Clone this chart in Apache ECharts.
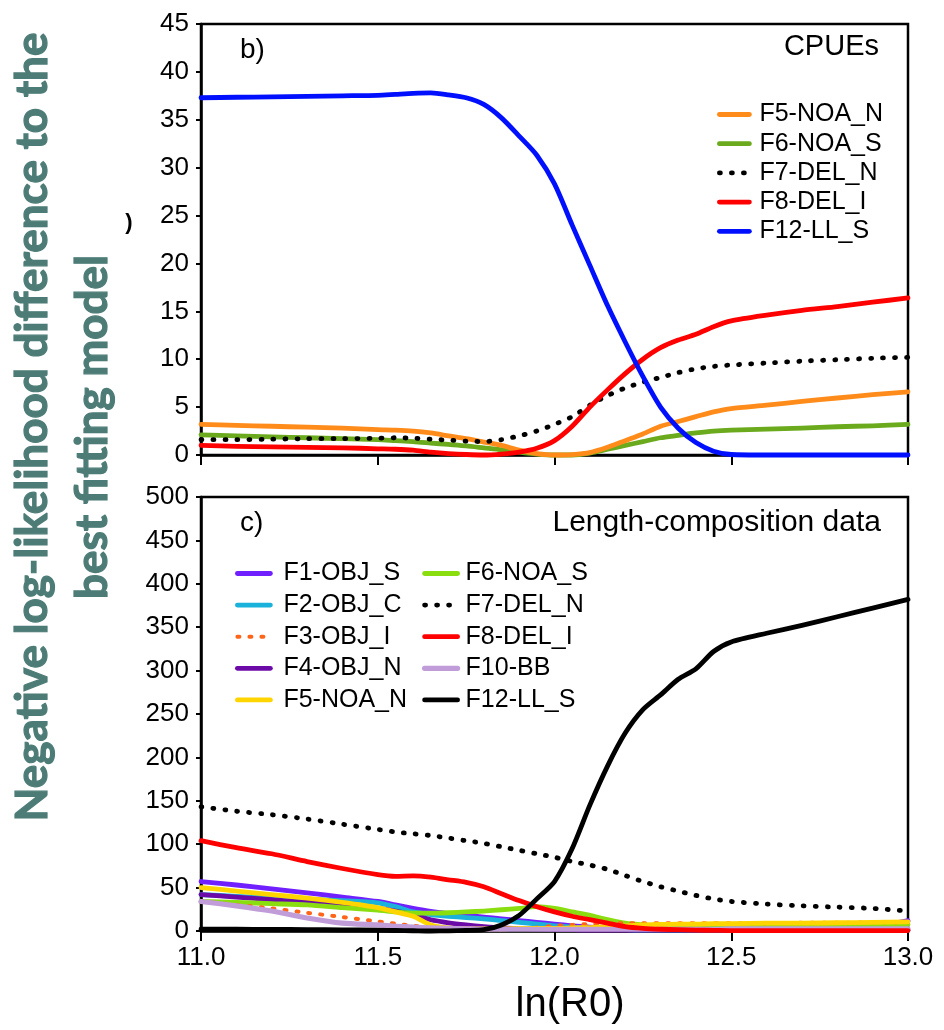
<!DOCTYPE html>
<html>
<head>
<meta charset="utf-8">
<script src="https://cdn.jsdelivr.net/npm/echarts@6/dist/echarts.min.js"></script>
<style>
  html, body { margin: 0; padding: 0; background: #fff; }
  #chart { width: 944px; height: 1030px; }
</style>
</head>
<body>
<div id="chart"></div>
<script>
// ln(R0) profile grid shared by both panels
const lnR0 = [11.0, 11.1, 11.2, 11.3, 11.4, 11.5, 11.55, 11.6, 11.65, 11.7, 11.75, 11.8, 11.85, 11.9, 11.95,
              12.0, 12.05, 12.1, 12.15, 12.2, 12.25, 12.3, 12.35, 12.4, 12.45, 12.5, 12.6, 12.7, 12.8, 12.9, 13.0];

// Panel b) CPUE likelihood components
const cpueF5 = [3.2, 3.1, 3.0, 2.9, 2.8, 2.65, 2.6, 2.5, 2.3, 2.0, 1.7, 1.35, 1.0, 0.5, 0.15, 0.0, 0.05, 0.25, 0.8, 1.5, 2.2, 3.0, 3.5, 4.0, 4.5, 4.85, 5.2, 5.6, 5.95, 6.3, 6.6];
const cpueF6 = [2.1, 2.0, 1.9, 1.8, 1.7, 1.6, 1.5, 1.4, 1.25, 1.1, 0.95, 0.75, 0.55, 0.3, 0.1, 0.0, 0.0, 0.2, 0.6, 1.0, 1.4, 1.8, 2.05, 2.3, 2.5, 2.6, 2.7, 2.8, 2.95, 3.05, 3.2];
const cpueF7 = [1.6, 1.6, 1.65, 1.7, 1.7, 1.75, 1.8, 1.75, 1.65, 1.55, 1.45, 1.4, 1.6, 2.0, 2.5, 3.2, 4.0, 5.2, 6.2, 7.0, 7.6, 8.1, 8.6, 9.0, 9.25, 9.4, 9.6, 9.8, 9.95, 10.1, 10.2];
const cpueF8 = [1.0, 0.9, 0.85, 0.8, 0.75, 0.65, 0.6, 0.5, 0.3, 0.15, 0.05, 0.0, 0.1, 0.3, 0.7, 1.5, 3.0, 5.0, 6.8, 8.5, 10.0, 11.2, 12.0, 12.6, 13.4, 14.0, 14.6, 15.1, 15.5, 15.95, 16.4];
const cpueF12 = [37.3, 37.35, 37.4, 37.45, 37.5, 37.55, 37.65, 37.75, 37.8, 37.6, 37.3, 36.6, 35.2, 33.3, 31.3, 28.3, 24.0, 19.8, 15.6, 11.8, 8.2, 5.0, 2.8, 1.3, 0.4, 0.05, 0, 0, 0, 0, 0];

// Panel c) length-composition likelihood components
const lenF1 = [57, 53, 48.5, 44, 39, 34, 30, 26, 22.5, 20, 18, 16, 14, 12, 10, 8, 6, 4.5, 3.5, 2.5, 2, 1.5, 1.5, 1.5, 1.5, 2, 2.5, 3, 3.5, 5, 12];
const lenF2 = [42, 40, 38, 36.5, 35, 32.5, 28, 22, 19, 17, 15.5, 14, 12, 10, 8, 6, 4.5, 3, 2, 1.5, 1, 1, 1, 1, 1, 1, 1, 1, 1, 1, 1];
const lenF3 = [34, 30, 26, 21, 16, 11, 8.5, 6, 4.5, 3, 2.5, 2, 2, 2.5, 4, 6, 7, 8, 8.5, 9, 9, 9, 9, 9, 9, 9, 9, 9.5, 9.5, 10, 10];
const lenF4 = [42, 39, 36, 33, 30, 26, 23, 19, 13, 9.5, 7, 5, 3.5, 3, 2.5, 2, 1.5, 1, 1, 1, 1, 1, 1, 1, 1, 1, 1, 1, 1, 1, 1];
const lenF5 = [50, 46, 42, 38, 33, 27, 22, 17, 7, 3.5, 2.5, 2.5, 2.5, 3, 3, 3, 3.5, 4, 5, 6, 7, 7.5, 8, 8, 8.5, 8.5, 9, 9, 9.5, 10, 10.5];
const lenF6 = [34, 33, 31.5, 30, 27, 24, 22, 20.5, 20.5, 21, 22, 23, 24.5, 26, 28, 26, 22, 18, 13, 9, 7, 6, 6, 6, 6, 6.5, 6.5, 7, 7, 7.5, 7.5];
const lenF7 = [143, 138, 134, 129, 123, 117, 114, 112, 110, 107, 104, 101, 97, 93, 89, 85, 80, 76, 71, 64, 57, 51, 46, 41, 37, 34, 31, 29, 27.5, 26, 23];
const lenF8 = [104, 96, 89, 80, 72, 65, 63, 63.5, 62, 59, 56, 51, 43, 35, 28, 22, 17, 13, 9, 5, 3, 2, 1.5, 1, 0.8, 0.5, 0.5, 0.5, 0.5, 0.5, 0.5];
const lenF10 = [34, 29, 23, 15, 9, 7, 5.5, 4.5, 3.5, 3, 2.5, 2, 2, 2, 2, 2, 2, 2, 2, 2, 2, 2, 2, 2, 2, 2.5, 2.5, 2.5, 2.5, 2.5, 2.5];
const lenF12 = [2, 2, 1.8, 1.6, 1.4, 1, 0.6, 0.3, 0, 0.2, 0.6, 1.5, 7, 18, 37, 57, 95, 145, 190, 228, 255, 272, 290, 302, 322, 333, 343, 352, 362, 372, 382];

// Axis ticks
const xTicks = { min: 11, max: 13, interval: 0.5 };
const yTicksCpue = { min: 0, max: 45, interval: 5 };
const yTicksLen = { min: 0, max: 500, interval: 50 };

const FONT = "'Liberation Sans', Arial, sans-serif";
const DOT = [1, 11];

function pairs(ys) { return lnR0.map((x, i) => [x, ys[i]]); }

// panel key after '@' keeps the two panels' legends independent
function line(name, panel, ys, color, width, dotted, z) {
  const idx = panel === 'cpue' ? 0 : 1;
  return {
    name: name + '@' + panel,
    type: 'line',
    xAxisIndex: idx, yAxisIndex: idx,
    data: pairs(ys),
    symbol: 'none',
    smooth: 0.25,
    clip: false,
    z: z,
    lineStyle: { color: color, width: width, type: dotted ? dotted : 'solid', cap: 'round', join: 'round' },
    itemStyle: { color: color }
  };
}

const series = [
  // panel b)
  line('F6-NOA_S', 'cpue', cpueF6, '#6aaa1c', 4.8, null, 2),
  line('F5-NOA_N', 'cpue', cpueF5, '#ff8c1a', 4.8, null, 3),
  line('F7-DEL_N', 'cpue', cpueF7, '#000000', 4.8, DOT, 4),
  line('F8-DEL_I', 'cpue', cpueF8, '#ff0000', 4.8, null, 5),
  line('F12-LL_S', 'cpue', cpueF12, '#0010ff', 4.8, null, 6),
  // panel c)
  line('F1-OBJ_S', 'len', lenF1, '#7020ff', 4.8, null, 2),
  line('F2-OBJ_C', 'len', lenF2, '#1ab2da', 4.8, null, 3),
  line('F4-OBJ_N', 'len', lenF4, '#6c0aa8', 4.8, null, 4),
  line('F6-NOA_S', 'len', lenF6, '#8ade10', 4.8, null, 5),
  line('F3-OBJ_I', 'len', lenF3, '#ff6418', 4, [2, 10], 6),
  line('F5-NOA_N', 'len', lenF5, '#ffd500', 4.8, null, 7),
  line('F10-BB', 'len', lenF10, '#c09cd8', 5.2, null, 8),
  line('F8-DEL_I', 'len', lenF8, '#ff0000', 4.8, null, 9),
  line('F7-DEL_N', 'len', lenF7, '#000000', 4.8, DOT, 10),
  line('F12-LL_S', 'len', lenF12, '#000000', 4.8, null, 11)
];

const tickLabel = { color: '#000', fontSize: 26, fontFamily: FONT };

function xAxis(gridIndex, showLabels) {
  return {
    type: 'value', gridIndex: gridIndex,
    min: xTicks.min, max: xTicks.max, interval: xTicks.interval,
    axisLine: { show: true, onZero: false, lineStyle: { color: '#000', width: 2.5 } },
    axisTick: { show: true, inside: false, length: 10, lineStyle: { color: '#000', width: 2 } },
    axisLabel: Object.assign({ show: showLabels, margin: 14, formatter: v => v.toFixed(1) }, tickLabel),
    splitLine: { show: false }
  };
}

function yAxis(gridIndex, t) {
  return {
    type: 'value', gridIndex: gridIndex,
    min: t.min, max: t.max, interval: t.interval,
    axisLine: { show: true, lineStyle: { color: '#000', width: 2.5 } },
    axisTick: { show: true, inside: false, length: 5, lineStyle: { color: '#000', width: 2 } },
    axisLabel: Object.assign({ margin: 12 }, tickLabel),
    splitLine: { show: false }
  };
}

function legend(names, panel, left, top, itemWidth, gap) {
  return {
    data: names.map(n => n + '@' + panel),
    formatter: n => n.split('@')[0],
    orient: 'vertical',
    left: left, top: top,
    padding: 0,
    itemWidth: itemWidth, itemHeight: 14,
    itemGap: panel === 'cpue' ? 4.2 : 6.6,
    selectedMode: false,
    itemStyle: { opacity: 0, color: 'rgba(0,0,0,0)', borderWidth: 0 },
    lineStyle: { width: 'inherit', cap: 'round' },
    textStyle: { color: '#000', fontSize: 25, lineHeight: 24, fontFamily: FONT, padding: [0, 0, 0, gap] }
  };
}

const option = {
  backgroundColor: '#fff',
  animation: false,
  grid: [
    { left: 201, right: 36, top: 24, height: 431, show: true, borderColor: '#000', borderWidth: 2.5, backgroundColor: 'transparent' },
    { left: 201, right: 36, top: 497, height: 434, show: true, borderColor: '#000', borderWidth: 2.5, backgroundColor: 'transparent' }
  ],
  xAxis: [xAxis(0, false), xAxis(1, true)],
  yAxis: [yAxis(0, yTicksCpue), yAxis(1, yTicksLen)],
  legend: [
    legend(['F5-NOA_N', 'F6-NOA_S', 'F7-DEL_N', 'F8-DEL_I', 'F12-LL_S'], 'cpue', 717, 102, 30, 5),
    legend(['F1-OBJ_S', 'F2-OBJ_C', 'F3-OBJ_I', 'F4-OBJ_N', 'F5-NOA_N'], 'len', 235, 561, 33, 8),
    legend(['F6-NOA_S', 'F7-DEL_N', 'F8-DEL_I', 'F10-BB', 'F12-LL_S'], 'len', 422, 561, 33, 3)
  ],
  graphic: [
    { type: 'text', x: 63, y: 427, rotation: Math.PI / 2, z: 10,
      style: { text: 'Negative log-likelihood difference to the\nbest fitting model',
               fontSize: 44, fontWeight: 'bold', fontFamily: "Lato, 'Noto Sans', sans-serif",
               fill: '#4d7c77', stroke: '#4d7c77', lineWidth: 1.2,
               align: 'center', verticalAlign: 'middle', lineHeight: 60 } },
    { type: 'text', x: 129, y: 223, z: 10,
      style: { text: ')', fontSize: 22, fontWeight: 'bold', fontFamily: FONT, fill: '#000', align: 'center', verticalAlign: 'middle' } },
    { type: 'text', x: 240, y: 50, z: 10,
      style: { text: 'b)', fontSize: 28, fontFamily: FONT, fill: '#000', align: 'left', verticalAlign: 'middle' } },
    { type: 'text', x: 879, y: 47, z: 10,
      style: { text: 'CPUEs', fontSize: 29, fontFamily: FONT, fill: '#000', align: 'right', verticalAlign: 'middle' } },
    { type: 'text', x: 240, y: 523, z: 10,
      style: { text: 'c)', fontSize: 28, fontFamily: FONT, fill: '#000', align: 'left', verticalAlign: 'middle' } },
    { type: 'text', x: 881, y: 523, z: 10,
      style: { text: 'Length-composition data', fontSize: 30, fontFamily: FONT, fill: '#000', align: 'right', verticalAlign: 'middle' } },
    { type: 'text', x: 570, y: 1005, z: 10,
      style: { text: 'ln(R0)', fontSize: 40, fontFamily: FONT, fill: '#000', align: 'center', verticalAlign: 'middle' } }
  ],
  series: series
};

const chart = echarts.init(document.getElementById('chart'), null, { renderer: 'canvas' });
chart.setOption(option);
</script>
</body>
</html>
